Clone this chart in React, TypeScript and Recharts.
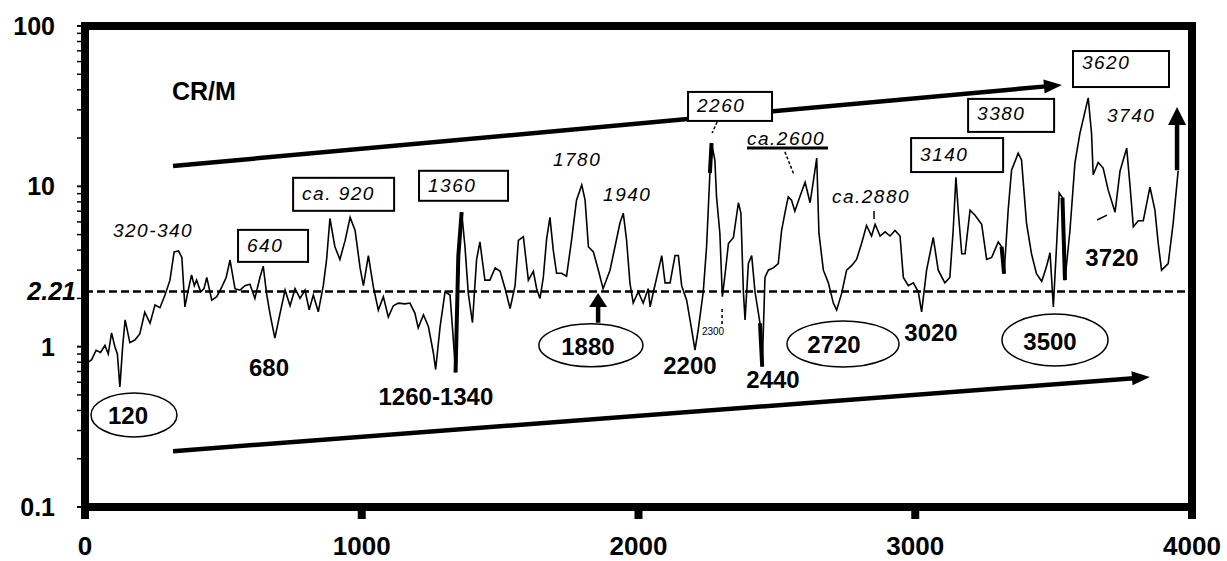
import React from 'react';
import { LineChart, Line, XAxis, YAxis, ReferenceLine, ReferenceArea, ReferenceDot } from 'recharts';

// CR/M record: year (x) and ratio (y, log scale)
const years = [
  0, 12, 24, 40, 56, 72, 84, 96, 108, 117, 126, 136, 145, 162, 180, 198, 216, 235, 253, 271,
  289, 307, 322, 338, 350, 361, 373, 385, 395, 403, 418, 430, 440, 458, 476, 494, 510, 524, 542, 560,
  578, 596, 614, 632, 644, 656, 668, 686, 705, 723, 741, 759, 777, 795, 810, 825, 843, 861, 873, 885,
  903, 921, 940, 958, 976, 994, 1006, 1024, 1042, 1060, 1078, 1096, 1114, 1132, 1156, 1174, 1192, 1204, 1223, 1241,
  1259, 1267, 1283, 1301, 1319, 1331, 1339, 1349, 1361, 1373, 1385, 1400, 1415, 1427, 1445, 1463, 1482, 1500, 1518, 1536,
  1554, 1566, 1584, 1602, 1620, 1632, 1644, 1656, 1668, 1680, 1692, 1704, 1722, 1740, 1758, 1776, 1795, 1807, 1819, 1837,
  1855, 1872, 1897, 1915, 1933, 1945, 1957, 1969, 1981, 1999, 2017, 2035, 2042, 2054, 2072, 2084, 2096, 2114, 2132, 2144,
  2156, 2174, 2192, 2204, 2216, 2234, 2246, 2258, 2264, 2276, 2282, 2294, 2303, 2313, 2325, 2343, 2361, 2370, 2379, 2385,
  2397, 2409, 2421, 2439, 2447, 2457, 2469, 2487, 2505, 2517, 2529, 2541, 2553, 2565, 2583, 2602, 2620, 2632, 2644, 2652,
  2668, 2686, 2704, 2716, 2734, 2752, 2770, 2788, 2806, 2824, 2842, 2855, 2873, 2891, 2909, 2927, 2945, 2957, 2975, 2993,
  3011, 3023, 3041, 3065, 3083, 3107, 3125, 3137, 3147, 3156, 3168, 3180, 3198, 3216, 3240, 3258, 3276, 3300, 3312, 3321,
  3336, 3348, 3372, 3384, 3402, 3420, 3438, 3457, 3475, 3487, 3499, 3511, 3520, 3532, 3541, 3559, 3577, 3595, 3625, 3637,
  3643, 3661, 3679, 3697, 3722, 3740, 3764, 3776, 3788, 3806, 3824, 3848, 3866, 3878, 3890, 3914, 3932, 3950,
];

const crm = [
  0.70, 0.80, 0.83, 0.95, 0.92, 1.02, 0.90, 1.22, 1.0, 0.9, 0.56, 1.0, 1.47, 1.06, 1.10, 1.20, 1.64, 1.40, 1.82, 1.75,
  2.1, 2.6, 3.9, 3.95, 3.6, 1.77, 2.25, 2.8, 2.4, 2.6, 2.2, 2.3, 2.7, 1.95, 2.05, 2.35, 2.7, 3.47, 2.3, 2.25,
  2.4, 2.45, 2.0, 2.7, 3.18, 2.15, 1.62, 1.13, 1.62, 2.25, 1.8, 2.3, 2.0, 2.25, 1.7, 2.1, 1.65, 2.4, 3.5, 6.3,
  4.2, 3.5, 4.6, 6.4, 5.3, 3.1, 2.4, 3.7, 2.35, 1.69, 2.05, 1.53, 1.8, 1.87, 1.85, 1.87, 1.62, 1.31, 1.58, 1.33,
  0.91, 0.72, 1.33, 2.2, 2.1, 1.1, 0.69, 3.7, 6.9, 4.2, 2.15, 1.41, 3.5, 4.5, 2.6, 2.6, 3.1, 2.95, 2.3, 1.73,
  2.4, 4.6, 4.85, 2.6, 2.95, 2.3, 2.0, 2.7, 4.7, 6.4, 4.0, 2.87, 2.87, 2.75, 4.6, 8.2, 10.2, 8.2, 4.2, 3.9,
  3.0, 2.3, 3.0, 4.2, 5.9, 6.8, 4.6, 2.5, 1.87, 2.2, 1.87, 2.3, 1.77, 2.2, 3.0, 3.7, 2.5, 2.5, 3.7, 3.7,
  2.4, 1.95, 1.28, 0.95, 1.28, 2.2, 4.2, 12.1, 18.6, 14.5, 8.6, 5.1, 2.05, 2.85, 4.4, 4.8, 7.9, 6.8, 2.2, 1.47,
  3.3, 3.7, 2.2, 1.4, 0.75, 2.7, 3.0, 3.1, 3.3, 5.3, 6.8, 8.6, 8.2, 7.0, 8.6, 10.6, 7.9, 10.8, 15.0, 5.1,
  3.0, 2.5, 1.87, 1.69, 2.15, 3.0, 3.2, 3.5, 4.4, 5.7, 4.9, 5.8, 4.9, 5.2, 4.9, 5.3, 4.9, 2.7, 2.4, 2.5,
  2.2, 1.65, 3.0, 4.8, 3.0, 2.5, 2.7, 5.3, 11.4, 6.8, 3.8, 3.8, 7.1, 6.6, 5.8, 3.5, 3.6, 4.5, 4.2, 2.85,
  7.2, 12.6, 16.1, 14.6, 5.9, 3.8, 2.85, 2.55, 3.2, 3.85, 1.77, 4.4, 9.1, 8.5, 2.6, 5.3, 14, 21.4, 35.6, 21.4,
  11.8, 14.1, 13, 9.5, 6.9, 12.5, 17.3, 10.1, 5.6, 6.1, 6.1, 9.9, 7.1, 4.4, 3.0, 3.3, 5.9, 12.5,
];

// stretches of the record drawn with a heavy stroke
const heavySpans: [number, number][] = [
  [1339, 1361], [2258, 2264], [2439, 2447], [3312, 3321], [3532, 3541],
];

const threshold = 2.21;
const xTicks = [0, 1000, 2000, 3000, 4000];
const majorY = [0.1, 1, 10, 100];
const yTicks = [
  0.1, 0.2, 0.3, 0.4, 0.5, 0.6, 0.7, 0.8, 0.9,
  1, 2, 3, 4, 5, 6, 7, 8, 9,
  10, 20, 30, 40, 50, 60, 70, 80, 90, 100, threshold,
];

// annotations
const boxedLabels = [
  { text: '640', year: 553, value: 5.35, w: 70, h: 32, ty: 16 },
  { text: 'ca. 920', year: 752, value: 11.3, w: 101, h: 33, ty: 16 },
  { text: '1360', year: 1207, value: 12.5, w: 89, h: 30, ty: 15 },
  { text: '2260', year: 2179, value: 38.8, w: 84, h: 29, ty: 14 },
  { text: '3140', year: 2985, value: 20.0, w: 92, h: 34, ty: 16 },
  { text: '3380', year: 3191, value: 35.1, w: 86, h: 33, ty: 15 },
  { text: '3620', year: 3570, value: 69.8, w: 96, h: 36, ty: 11 },
];

const ringLabels = [
  { text: '120', year: 177, value: 0.375, rx: 43, ry: 22, dx: -6 },
  { text: '1880', year: 1828, value: 1.02, rx: 52, ry: 21.5, dx: -3 },
  { text: '2720', year: 2739, value: 1.04, rx: 56, ry: 23, dx: -9 },
  { text: '3500', year: 3505, value: 1.10, rx: 53, ry: 26, dx: -5 },
];

const boldLabels = [
  { text: '680', year: 665, value: 0.74 },
  { text: '1260-1340', year: 1268, value: 0.492 },
  { text: '2200', year: 2186, value: 0.76 },
  { text: '2440', year: 2486, value: 0.62 },
  { text: '3020', year: 3057, value: 1.22 },
  { text: '3720', year: 3711, value: 3.62 },
];

const italicLabels = [
  { text: '320-340', year: 101, value: 5.27, underline: false },
  { text: '1780', year: 1691, value: 14.8, underline: false },
  { text: '1940', year: 1872, value: 8.95, underline: false },
  { text: 'ca.2600', year: 2392, value: 20.0, underline: true },
  { text: 'ca.2880', year: 2699, value: 8.58, underline: false },
  { text: '3740', year: 3693, value: 27.5, underline: false },
];

const leaders = [
  { from: [2284, 25.2], to: [2266, 21.5], dash: '3 2' },
  { from: [2529, 16.4], to: [2562, 11.8], dash: '3 2' },
  { from: [2851, 7.02], to: [2851, 6.26], dash: '' },
  { from: [2302, 1.72], to: [2302, 1.38], dash: '3 3' },
  { from: [3657, 6.17], to: [3693, 6.62], dash: '' },
];

const arrows = [
  { from: [318, 13.4], to: [3530, 42.9], width: 4.5, head: 18, half: 7 },
  { from: [318, 0.223], to: [3848, 0.647], width: 4.5, head: 18, half: 7 },
  { from: [1854, 1.41], to: [1854, 2.16], width: 4.5, head: 14, half: 9 },
  { from: [3946, 12.6], to: [3946, 31.3], width: 4.5, head: 18, half: 9 },
];

const rows = years.map((year, i) => ({
  year,
  crm: crm[i],
  heavy: heavySpans.some(([a, b]) => year >= a && year <= b) ? crm[i] : null,
}));

const SANS = '"Liberation Sans", Arial, Helvetica, sans-serif';

const XTick = (props: any) => {
  const { x, y, payload } = props;
  return (
    <g>
      <rect x={x - 4} y={y + 3} width={8} height={9} fill="#000" />
      <text x={x} y={y + 48} textAnchor="middle"
        fontFamily={SANS} fontWeight="bold" fontSize={26} fill="#000">
        {payload.value}
      </text>
    </g>
  );
};

const YTick = (props: any) => {
  const { x, y, payload } = props;
  const v = payload.value;
  if (v === threshold) {
    return (
      <text x={x - 9} y={y} textAnchor="end" dominantBaseline="central"
        fontFamily={SANS} fontWeight="bold" fontStyle="italic" fontSize={25} fill="#000">
        {v}
      </text>
    );
  }
  const major = majorY.includes(v);
  return (
    <g>
      <line x1={x - 8} x2={x - 3} y1={y} y2={y} stroke="#000" strokeWidth={major ? 2 : 1.5} />
      {major && (
        <text x={x - 30} y={y} textAnchor="end" dominantBaseline="central"
          fontFamily={SANS} fontWeight="bold" fontSize={25} fill="#000">
          {v}
        </text>
      )}
    </g>
  );
};

const arrowShape = (width: number, head: number, half: number) => (p: any) => {
  const { x1, y1, x2, y2 } = p;
  const dx = x2 - x1;
  const dy = y2 - y1;
  const len = Math.hypot(dx, dy) || 1;
  const ux = dx / len;
  const uy = dy / len;
  const bx = x2 - ux * head;
  const by = y2 - uy * head;
  const nx = -uy;
  const ny = ux;
  return (
    <g>
      <line x1={x1} y1={y1} x2={bx + ux * 2} y2={by + uy * 2} stroke="#000" strokeWidth={width} />
      <polygon
        points={`${x2},${y2} ${bx + nx * half},${by + ny * half} ${bx - nx * half},${by - ny * half}`}
        fill="#000"
      />
    </g>
  );
};

const leaderShape = (dash: string) => (p: any) => (
  <line x1={p.x1} y1={p.y1} x2={p.x2} y2={p.y2} stroke="#000" strokeWidth={1.5}
    strokeDasharray={dash || undefined} />
);

const boxShape = (b: typeof boxedLabels[number]) => (p: any) => (
  <g>
    <rect x={p.cx} y={p.cy} width={b.w} height={b.h} fill="#fff" stroke="#000" strokeWidth={2} />
    <text x={p.cx + 9} y={p.cy + b.ty} dominantBaseline="central" fontFamily={SANS}
      fontStyle="italic" fontSize={19} letterSpacing={1.5} fill="#000">
      {b.text}
    </text>
  </g>
);

const ringShape = (r: typeof ringLabels[number]) => (p: any) => (
  <g>
    <ellipse cx={p.cx} cy={p.cy} rx={r.rx} ry={r.ry} fill="none" stroke="#000" strokeWidth={1.5} />
    <text x={p.cx + r.dx} y={p.cy + 1} textAnchor="middle" dominantBaseline="central"
      fontFamily={SANS} fontWeight="bold" fontSize={24} fill="#000">
      {r.text}
    </text>
  </g>
);

const boldShape = (b: typeof boldLabels[number]) => (p: any) => (
  <text x={p.cx} y={p.cy} textAnchor="middle" dominantBaseline="central"
    fontFamily={SANS} fontWeight="bold" fontSize={24} fill="#000">
    {b.text}
  </text>
);

const italicShape = (t: typeof italicLabels[number]) => (p: any) => (
  <g>
    <text x={p.cx} y={p.cy} dominantBaseline="central" fontFamily={SANS}
      fontStyle="italic" fontSize={19} letterSpacing={1.5} fill="#000">
      {t.text}
    </text>
    {t.underline && (
      <line x1={p.cx} x2={p.cx + 81} y1={p.cy + 10} y2={p.cy + 10} stroke="#000" strokeWidth={3} />
    )}
  </g>
);

const titleShape = (p: any) => (
  <text x={p.cx} y={p.cy} dominantBaseline="central" fontFamily={SANS}
    fontWeight="bold" fontSize={25} fill="#000">
    CR/M
  </text>
);

const smallShape = (p: any) => (
  <text x={p.cx} y={p.cy} dominantBaseline="central" fontFamily={SANS}
    fontSize={10} fill="#000">
    2300
  </text>
);

export default function App() {
  return (
    <div style={{ position: 'absolute', left: 0, top: 0, background: '#fff' }}>
      <LineChart
        width={1227}
        height={561}
        data={rows}
        margin={{ top: 26, right: 35, left: 25, bottom: 14 }}
      >
        <XAxis
          type="number"
          dataKey="year"
          domain={[0, 4000]}
          ticks={xTicks}
          interval={0}
          tick={<XTick />}
          axisLine={false}
          tickLine={false}
          tickSize={0}
          tickMargin={0}
          height={40}
        />
        <YAxis
          type="number"
          scale="log"
          domain={[0.1, 100]}
          allowDataOverflow
          ticks={yTicks}
          interval={0}
          tick={<YTick />}
          axisLine={false}
          tickLine={false}
          tickSize={0}
          tickMargin={0}
          width={60}
        />
        <ReferenceLine y={threshold} stroke="#000" strokeWidth={2.5} strokeDasharray="8 4" />
        <Line
          type="linear"
          dataKey="crm"
          stroke="#000"
          strokeWidth={1.6}
          dot={false}
          isAnimationActive={false}
        />
        <Line
          type="linear"
          dataKey="heavy"
          stroke="#000"
          strokeWidth={4}
          dot={false}
          connectNulls={false}
          isAnimationActive={false}
        />
        {arrows.map((a, i) => (
          <ReferenceLine
            key={`arrow-${i}`}
            segment={[{ x: a.from[0], y: a.from[1] }, { x: a.to[0], y: a.to[1] }]}
            shape={arrowShape(a.width, a.head, a.half)}
          />
        ))}
        {leaders.map((l, i) => (
          <ReferenceLine
            key={`lead-${i}`}
            segment={[{ x: l.from[0], y: l.from[1] }, { x: l.to[0], y: l.to[1] }]}
            shape={leaderShape(l.dash)}
          />
        ))}
        <ReferenceDot x={314} y={39.4} r={1} shape={titleShape} />
        <ReferenceDot x={2229} y={1.25} r={1} shape={smallShape} />
        {boxedLabels.map((b) => (
          <ReferenceDot key={b.text} x={b.year} y={b.value} r={1} shape={boxShape(b)} />
        ))}
        {ringLabels.map((r) => (
          <ReferenceDot key={r.text} x={r.year} y={r.value} r={1} shape={ringShape(r)} />
        ))}
        {boldLabels.map((b) => (
          <ReferenceDot key={b.text} x={b.year} y={b.value} r={1} shape={boldShape(b)} />
        ))}
        {italicLabels.map((t) => (
          <ReferenceDot key={t.text} x={t.year} y={t.value} r={1} shape={italicShape(t)} />
        ))}
        <ReferenceArea x1={0} x2={4000} y1={0.1} y2={100} fill="none" fillOpacity={0}
          stroke="#000" strokeWidth={8} />
      </LineChart>
    </div>
  );
}
